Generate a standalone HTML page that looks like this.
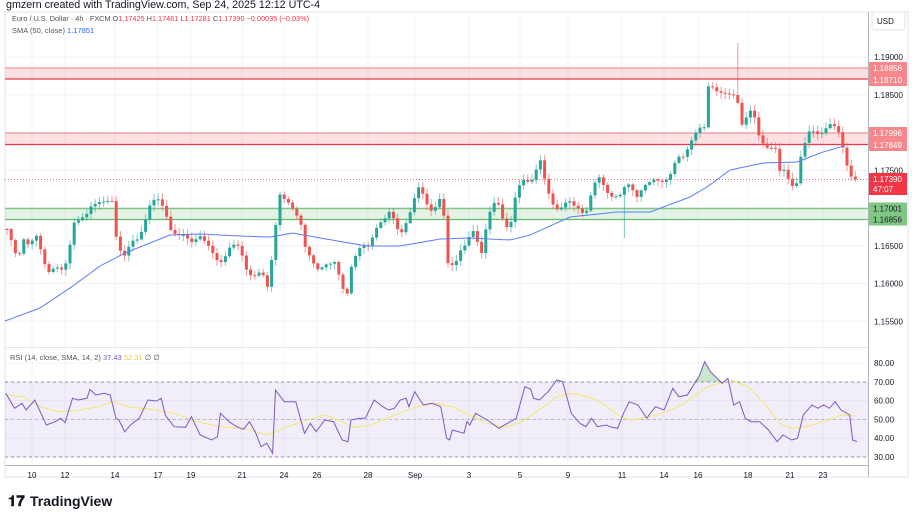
<!DOCTYPE html>
<html><head><meta charset="utf-8"><style>
body{margin:0;background:#fff;width:912px;height:513px;overflow:hidden;font-family:"Liberation Sans",sans-serif}
svg{position:absolute;left:0;top:0}
</style></head><body>
<svg id="s" width="912" height="513" xmlns="http://www.w3.org/2000/svg" font-family="Liberation Sans, sans-serif">
<text x="6" y="8" font-size="10.7" fill="#131722">gmzern created with TradingView.com, Sep 24, 2025 12:12 UTC-4</text>
<rect x="5" y="12" width="903" height="465" fill="none" stroke="#e0e3eb" stroke-width="1"/>
<g id="grid" stroke="#f0f3fa" stroke-width="1"></g>
<rect x="5" y="68" width="863" height="11" fill="#f23645" fill-opacity="0.15"/>
<line x1="5" x2="868" y1="68" y2="68" stroke="#f77c80" stroke-width="1"/>
<line x1="5" x2="868" y1="79" y2="79" stroke="#f23645" stroke-width="1.2"/>
<rect x="5" y="133" width="863" height="11.5" fill="#f23645" fill-opacity="0.15"/>
<line x1="5" x2="868" y1="133" y2="133" stroke="#f77c80" stroke-width="1"/>
<line x1="5" x2="868" y1="144.5" y2="144.5" stroke="#f23645" stroke-width="1.2"/>
<rect x="5" y="208.5" width="863" height="11" fill="#4caf50" fill-opacity="0.15"/>
<line x1="5" x2="868" y1="208.5" y2="208.5" stroke="#81c784" stroke-width="1.5"/>
<line x1="5" x2="868" y1="219.5" y2="219.5" stroke="#66bb6a" stroke-width="1.2"/>
<line x1="5" x2="868" y1="179.5" y2="179.5" stroke="#f23645" stroke-width="0.8" stroke-dasharray="1,2"/>
<g id="candles"></g>
<polyline id="sma" fill="none" stroke="#5b7cfa" stroke-width="1"/>
<line x1="5" x2="868" y1="347.5" y2="347.5" stroke="#e0e3eb"/>
<rect x="5" y="382" width="863" height="75" fill="#7e57c2" fill-opacity="0.1"/>
<line x1="5" x2="868" y1="382" y2="382" stroke="#9598a1" stroke-dasharray="3,3"/>
<line x1="5" x2="868" y1="419.5" y2="419.5" stroke="#9598a1" stroke-opacity="0.6" stroke-dasharray="3,3"/>
<line x1="5" x2="868" y1="457" y2="457" stroke="#9598a1" stroke-dasharray="3,3"/>
<polygon id="rsifill" fill="#4caf50" fill-opacity="0.3"/>
<polyline id="rsima" fill="none" stroke="#f5e66b" stroke-width="1"/>
<polyline id="rsi" fill="none" stroke="#7e57c2" stroke-width="1"/>
<text x="10" y="360" font-size="7.5" fill="#555">RSI (14, close, SMA, 14, 2) <tspan fill="#7e57c2">37.43</tspan> <tspan fill="#e6c84a">52.31</tspan> ∅ ∅</text>
<line x1="868.5" x2="868.5" y1="12" y2="477" stroke="#b2b5be"/>
<line x1="5" x2="868" y1="465.5" y2="465.5" stroke="#b2b5be"/>
<g id="ylab" font-size="8" fill="#131722"></g>
<g id="xlab" font-size="8" fill="#131722" text-anchor="middle"></g>
<rect x="872" y="12" width="33" height="18" rx="2" fill="#fff" stroke="#e0e3eb"/>
<text x="877" y="24" font-size="8" fill="#131722">USD</text>
<text x="12" y="21" font-size="7.3" fill="#555">Euro / U.S. Dollar · 4h · FXCM  O<tspan fill="#f23645">1.17425</tspan>  H<tspan fill="#f23645">1.17461</tspan>  L<tspan fill="#f23645">1.17281</tspan>  C<tspan fill="#f23645">1.17390</tspan>  <tspan fill="#f23645">−0.00035 (−0.03%)</tspan></text>
<text x="12" y="33" font-size="7.5" fill="#555">SMA (50, close) <tspan fill="#2962ff">1.17851</tspan></text>
<text x="8" y="506" font-size="15" font-weight="bold" fill="#131722">𝟏𝟕</text>
<text x="30" y="506" font-size="14" font-weight="bold" fill="#131722">TradingView</text>
</svg>
<script>
const NS="http://www.w3.org/2000/svg";
function el(p,t,a,txt){const e=document.createElementNS(NS,t);for(const k in a)e.setAttribute(k,a[k]);if(txt)e.textContent=txt;document.getElementById(p).appendChild(e);return e;}
function interp(P,x){if(x<=P[0])return P[1];for(let i=2;i<P.length;i+=2){if(x<=P[i]){const t=(x-P[i-2])/(P[i]-P[i-2]);return P[i-1]+t*(P[i+1]-P[i-1]);}}return P[P.length-1];}
const yp=p=>57+(1.19-p)*7550;
const xs=[[32,"10"],[65,"12"],[115,"14"],[158,"17"],[191,"19"],[242,"21"],[284,"24"],[317,"26"],[368,"28"],[415,"Sep"],[469,"3"],[520,"5"],[568,"9"],[622,"11"],[664,"14"],[698,"16"],[748,"18"],[790,"21"],[823,"23"]];
xs.forEach(([x,t])=>{el("grid","line",{x1:x,x2:x,y1:12,y2:465});el("xlab","text",{x:x,y:478},t);});
[1.19,1.185,1.18,1.175,1.17,1.165,1.16,1.155].forEach(p=>{const y=yp(p);el("grid","line",{x1:5,x2:868,y1:y,y2:y});});
[80,70,60,50,40,30].forEach(v=>{const y=363+(80-v)*1.88;el("grid","line",{x1:5,x2:868,y1:y,y2:y});el("ylab","text",{x:874,y:y+3},v.toFixed(2));});
[[1.19,"1.19000"],[1.185,"1.18500"],[1.175,"1.17500"],[1.165,"1.16500"],[1.16,"1.16000"],[1.155,"1.15500"]].forEach(([p,t])=>el("ylab","text",{x:874,y:yp(p)+3},t));
function lab(y,t,bg,fg){el("ylab","rect",{x:869,y:y-6,width:38,height:12,fill:bg});el("ylab","text",{x:873,y:y+3,fill:fg},t);}
lab(68,"1.18856","#f7878b","#fff");lab(80,"1.18710","#f7878b","#fff");
lab(133,"1.17996","#f7878b","#fff");lab(145,"1.17849","#f7878b","#fff");
lab(208.5,"1.17001","#81c784","#131722");lab(219.5,"1.16856","#81c784","#131722");
el("ylab","rect",{x:869,y:173,width:38,height:22,fill:"#f23645"});
el("ylab","text",{x:873,y:182,fill:"#fff"},"1.17390");el("ylab","text",{x:873,y:192,fill:"#fff"},"47:07");
const C=[7,229,13,240,17,256,20,253,24,242,30,251,35,229,40,243,46,268,50,277,55,270,62,267,68,255,73,225,80,224,88,210,92,200,98,203,105,206,112,200,116,232,121,250,125,257,132,245,138,238,145,218,150,205,157,202,165,208,170,225,178,238,185,239,190,240,195,238,198,230,203,241,210,252,216,258,222,258,230,249,240,248,248,270,255,277,262,276,268,287,275,227,280,195,285,204,292,208,300,215,305,246,312,266,318,270,325,260,335,265,342,290,348,291,352,258,360,250,368,248,378,220,385,220,390,215,400,232,405,222,412,210,418,190,424,194,428,203,433,210,440,202,443,208,446,250,449,270,452,262,456,258,460,250,467,248,472,230,478,240,482,250,486,227,492,208,498,205,505,222,510,225,515,200,522,183,528,180,533,175,537,165,541,161,545,185,550,200,555,206,560,205,565,203,570,205,575,210,580,207,585,212,590,197,595,186,600,180,605,188,612,193,620,198,625,190,630,184,637,193,642,188,650,186,655,180,660,178,665,178,670,177,678,160,683,156,686,149,690,139,698,132,705,130,708,86,712,83,716,87,720,92,725,97,730,98,735,94,737,91,740,123,745,118,750,114,753,112,757,135,760,137,765,143,770,145,776,152,780,176,785,170,790,180,796,185,800,161,805,147,810,131,815,129,820,131,825,130,830,128,835,129,840,132,845,153,850,177,855,178,858,180];
let prev=interp(C,3);
for(let i=0;i<203;i++){const x=7+i*4.2;let c=interp(C,x)+Math.sin(i*7.3)*4;if(i==202)c=179.4;const o=prev;prev=c;
const up=c<o;const col=up?"#26a69a":"#ef5350";const t=Math.min(o,c),b=Math.max(o,c);
let hi=t-1-Math.abs(Math.sin(i*3.1))*5,lo=b+1+Math.abs(Math.cos(i*2.7))*5;
if(Math.abs(x-737)<2.2)hi=43;if(Math.abs(x-626)<2.2)lo=238;
el("candles","line",{x1:x,x2:x,y1:hi,y2:lo,stroke:col,"stroke-opacity":0.6,"stroke-width":1});
el("candles","rect",{x:x-1.5,y:t,width:3,height:Math.max(b-t,1),fill:col});}
const S=[5,321,40,308,70,288,100,266,125,253,150,243,170,235,200,234,240,236,270,237,293,233,320,238,367,246,400,246,440,239,470,238,510,240,530,235,570,217,617,212,650,212,690,197,707,187,730,170,763,163,797,162,823,152,847,145];
let sp=[];for(let x=5;x<=847;x+=3)sp.push(x+","+interp(S,x).toFixed(1));document.getElementById("sma").setAttribute("points",sp.join(" "));
const R=[10,160,25,205,38,190,45,210,60,180,80,255,95,245,105,235,112,248,125,175,135,180,150,175,155,148,165,165,180,160,190,165,200,235,205,240,215,275,225,255,240,235,255,180,270,183,278,175,285,225,300,260,320,262,330,230,345,285,365,300,375,290,380,220,395,245,410,262,420,268,430,245,440,275,450,320,460,310,470,340,475,150,490,185,510,185,525,280,535,250,545,275,560,240,575,245,590,300,600,305,605,240,620,235,630,235,645,180,660,200,670,210,680,205,690,180,700,175,705,200,715,155,730,195,745,190,760,200,770,295,775,300,780,270,800,280,805,245,810,255,820,220,840,240,860,265,880,245,890,235,905,140,915,148,920,175,930,180,945,155,960,120,970,125,985,220,1000,250,1010,260,1020,235,1030,260,1045,255,1055,262,1065,265,1075,220,1085,185,1100,195,1115,235,1130,200,1145,210,1160,145,1170,170,1185,165,1205,110,1215,65,1225,95,1245,130,1255,115,1265,195,1275,185,1285,235,1295,245,1310,245,1325,270,1340,305,1350,285,1365,300,1375,295,1385,225,1395,205,1400,195,1410,205,1420,195,1430,205,1440,185,1450,210,1465,225,1470,300,1478,305];
const M=[10,165,40,170,70,200,100,215,130,212,170,200,195,185,220,200,260,208,300,220,340,245,380,260,420,265,460,285,490,265,520,245,560,225,590,245,610,262,640,255,680,225,720,200,750,190,780,200,810,225,840,250,870,262,900,245,930,210,960,170,990,160,1030,180,1070,230,1090,240,1120,230,1150,215,1180,190,1220,140,1260,120,1290,140,1320,195,1345,250,1365,265,1390,260,1420,245,1450,225,1475,228];
const tp=A=>{let p=[];for(let i=0;i<A.length;i+=2)p.push((A[i]*0.58).toFixed(1)+","+(340+A[i+1]/3).toFixed(1));return p.join(" ");};
document.getElementById("rsi").setAttribute("points",tp(R));
document.getElementById("rsima").setAttribute("points",tp(M));
document.getElementById("rsifill").setAttribute("points",tp([1195,126,1205,110,1215,65,1225,95,1245,126]));
</script>
</body></html>
